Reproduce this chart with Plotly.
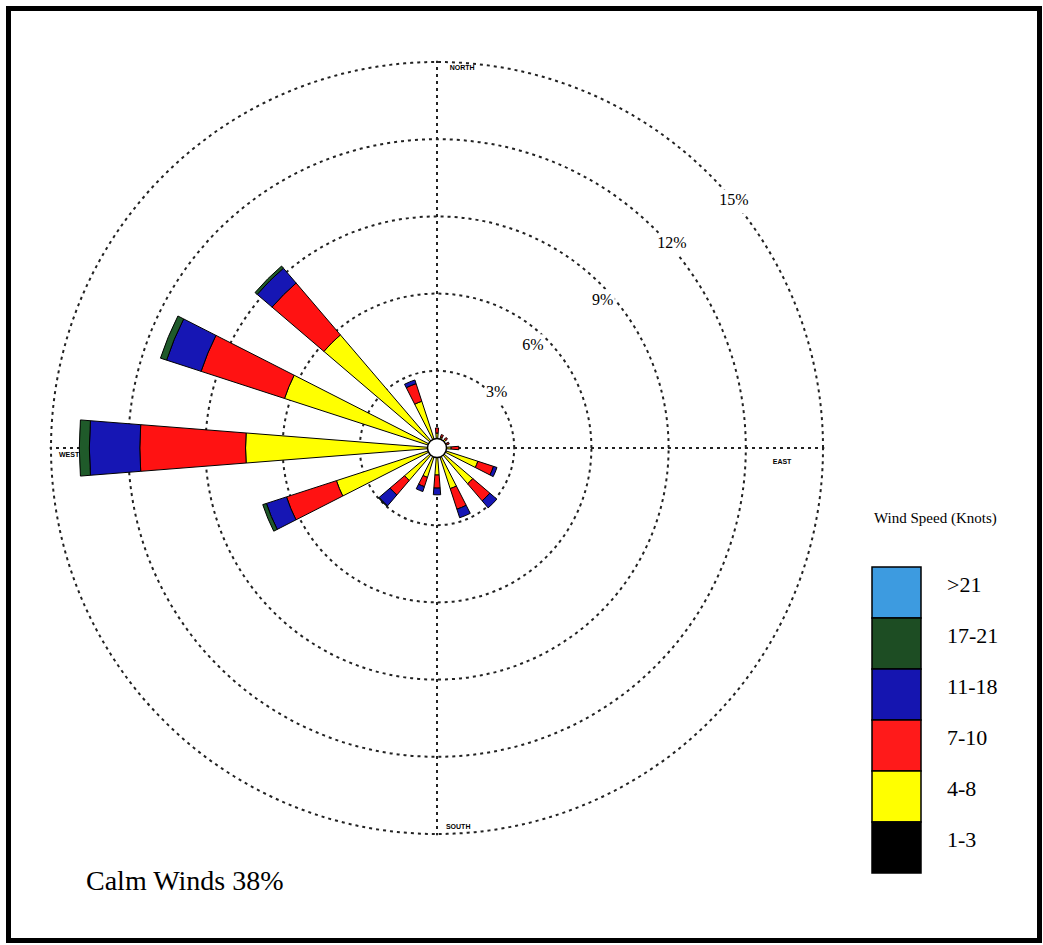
import plotly.graph_objects as go

# ---- data -------------------------------------------------------------
directions = ["N", "NNE", "NE", "ENE", "E", "ESE", "SE", "SSE",
              "S", "SSW", "SW", "WSW", "W", "WNW", "NW", "NNW"]
direction_deg = [0, 22.5, 45, 67.5, 90, 112.5, 135, 157.5,
                 180, 202.5, 225, 247.5, 270, 292.5, 315, 337.5]

speed_classes = ["1-3", "4-8", "7-10", "11-18", "17-21", ">21"]

# frequency (%) of each speed class per direction
freq_1_3 = [0.20, 0.20, 0.20, 0.20, 0.20, 0.25, 0.25, 0.25,
            0.25, 0.25, 0.25, 0.30, 0.30, 0.30, 0.30, 0.25]
freq_4_8 = [0.38, 0.25, 0.25, 0.22, 0.35, 1.42, 1.58, 1.41,
            0.80, 0.95, 1.41, 3.81, 7.14, 5.93, 5.48, 1.66]
freq_7_10 = [0.20, 0.10, 0.09, 0.08, 0.30, 0.64, 0.87, 0.84,
             0.51, 0.38, 0.74, 2.04, 4.11, 3.41, 2.65, 0.72]
freq_11_18 = [0.00, 0.00, 0.00, 0.00, 0.00, 0.14, 0.36, 0.35,
              0.26, 0.20, 0.56, 0.82, 1.96, 1.41, 0.76, 0.15]
freq_17_21 = [0.00, 0.00, 0.00, 0.00, 0.00, 0.00, 0.00, 0.00,
              0.00, 0.00, 0.03, 0.15, 0.39, 0.25, 0.11, 0.00]
freq_over_21 = [0.00] * 16

ring_values = [3, 6, 9, 12, 15]
ring_labels = ["3%", "6%", "9%", "12%", "15%"]
cardinal_labels = ["NORTH", "EAST", "SOUTH", "WEST"]
calm_pct = 38

# ---- styling ----------------------------------------------------------
class_colors = ["#000000", "#ffff00", "#ff1212", "#1616b4", "#1f5a2a", "#3a9de0"]
legend_colors = ["#000000", "#ffff00", "#ff1a1a", "#1515b0", "#1d4d23", "#3d9be0"]
serif = "Liberation Serif, Times New Roman, serif"

W, H = 1043, 945
cx, cy = 437, 448          # pixel centre of the rose
r_max = 15.05
R = 386 * r_max / 15       # pixel radius of the plotting area

fig = go.Figure()

series = [freq_1_3, freq_4_8, freq_7_10, freq_11_18, freq_17_21, freq_over_21]
for name, vals, col in zip(speed_classes, series, class_colors):
    fig.add_trace(go.Barpolar(
        r=vals, theta=direction_deg, name=name, width=9,
        marker=dict(color=col, line=dict(color="black", width=1)),
        showlegend=False,
    ))

# white hub in the middle
fig.add_trace(go.Scatterpolar(
    r=[0], theta=[0], mode="markers",
    marker=dict(size=19, color="white", line=dict(color="black", width=1.5)),
    showlegend=False, hoverinfo="skip",
))

# ring percentage labels on a white patch that breaks the dotted circle
ring_label_r = [3.15, 5.43, 8.6, 12.1, 15.0]
ring_label_theta = [47.5, 43.3, 48.5, 49.0, 50.3]
fig.add_trace(go.Scatterpolar(
    r=ring_label_r, theta=ring_label_theta, mode="markers+text",
    text=ring_labels, textposition="middle center",
    textfont=dict(family=serif, size=16, color="black"),
    marker=dict(symbol="square", size=24, color="white"),
    cliponaxis=False,
    showlegend=False, hoverinfo="skip",
))

# compass point names
card_r = [14.8, 13.42, 14.75, 14.3]
card_theta = [3.8, 92.3, 176.8, 268.8]
fig.add_trace(go.Scatterpolar(
    r=card_r, theta=card_theta, mode="text",
    text=[f"<b>{t}</b>" for t in cardinal_labels], textposition="middle center",
    textfont=dict(family="Liberation Sans, Arial, sans-serif", size=7, color="#000000"),
    cliponaxis=False,
    showlegend=False, hoverinfo="skip",
))

fig.update_layout(
    width=W, height=H,
    margin=dict(l=0, r=0, t=0, b=0),
    paper_bgcolor="white",
    plot_bgcolor="white",
    polar=dict(
        domain=dict(x=[(cx - R) / W, (cx + R) / W],
                    y=[(H - cy - R) / H, (H - cy + R) / H]),
        bgcolor="white",
        barmode="stack",
        radialaxis=dict(
            range=[0, r_max], tickvals=ring_values,
            showticklabels=False, ticks="", showline=False,
            showgrid=True, gridcolor="#222222", gridwidth=1.6, griddash="3px,4px",
        ),
        angularaxis=dict(
            direction="clockwise", rotation=90,
            tickvals=[0, 90, 180, 270], showticklabels=False, ticks="",
            showline=False,
            showgrid=True, gridcolor="#222222", gridwidth=1.6, griddash="3px,4px",
        ),
    ),
)

# ---- speed-class key --------------------------------------------------
shapes = []
annotations = []
box_x0, box_x1 = 872, 921
box_top, box_h = 567, 51
for i, (name, col) in enumerate(zip(reversed(speed_classes), reversed(legend_colors))):
    y0 = box_top + i * box_h
    y1 = y0 + box_h
    shapes.append(dict(
        type="rect", xref="paper", yref="paper",
        x0=box_x0 / W, x1=box_x1 / W, y0=1 - y1 / H, y1=1 - y0 / H,
        fillcolor=col, line=dict(color="black", width=1.5), layer="above",
    ))
    annotations.append(dict(
        x=945 / W, y=1 - (y0 + 17) / H, xref="paper", yref="paper",
        text=name, showarrow=False, xanchor="left", yanchor="middle",
        font=dict(family=serif, size=22, color="black"),
    ))

annotations.append(dict(
    x=935 / W, y=1 - 518 / H, xref="paper", yref="paper",
    text="Wind Speed (Knots)", showarrow=False, xanchor="center", yanchor="middle",
    font=dict(family=serif, size=15, color="black"),
))
annotations.append(dict(
    x=84 / W, y=1 - 880 / H, xref="paper", yref="paper",
    text=f"Calm Winds {calm_pct}%", showarrow=False, xanchor="left", yanchor="middle",
    font=dict(family=serif, size=28, color="black"),
))

# page frame
shapes.append(dict(
    type="rect", xref="paper", yref="paper",
    x0=8.5 / W, x1=1039.5 / W, y0=1 - 940.5 / H, y1=1 - 8.5 / H,
    line=dict(color="black", width=5), fillcolor="rgba(0,0,0,0)",
))

fig.update_layout(shapes=shapes, annotations=annotations)
fig.write_html("out.html")
